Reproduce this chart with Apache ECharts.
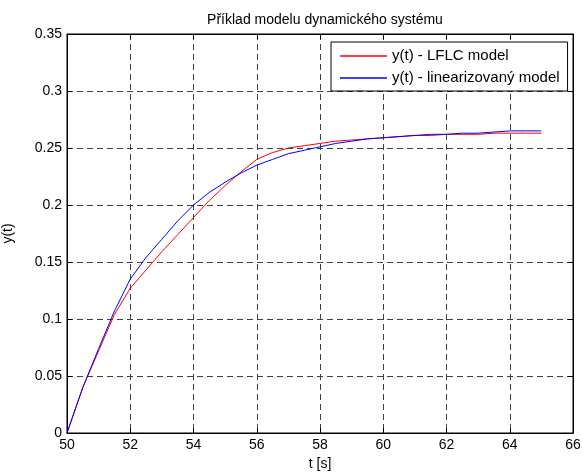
<!DOCTYPE html>
<html>
<head>
<meta charset="utf-8">
<script src="https://cdn.jsdelivr.net/npm/echarts@6/dist/echarts.min.js"></script>
<style>html,body{margin:0;padding:0;background:#fff}#c{width:583px;height:472px}</style>
</head>
<body>
<div id="c"></div>
<script>
var titleText = 'Příklad modelu dynamického systému';
var xName = 't [s]';
var yName = 'y(t)';
var seriesNames = ['y(t) - LFLC model', 'y(t) - linearizovaný model'];
var seriesColors = ['#ff0000', '#0000ff'];
var tValues = [50, 50.5, 51, 51.5, 52, 52.5, 53, 53.5, 54, 54.5, 55, 55.5, 56, 56.5, 57, 57.5, 58, 58.5, 59, 59.5, 60, 60.5, 61, 61.5, 62, 62.5, 63, 63.5, 64, 64.5, 65];
var lflcValues = [0, 0.040, 0.072, 0.104, 0.127, 0.143, 0.159, 0.174, 0.189, 0.204, 0.217, 0.229, 0.240, 0.246, 0.250, 0.252, 0.254, 0.256, 0.257, 0.258, 0.259, 0.260, 0.261, 0.261, 0.262, 0.262, 0.262, 0.263, 0.263, 0.263, 0.263];
var linValues = [0, 0.040, 0.074, 0.107, 0.135, 0.154, 0.170, 0.186, 0.200, 0.211, 0.220, 0.228, 0.235, 0.240, 0.245, 0.248, 0.251, 0.254, 0.256, 0.258, 0.259, 0.260, 0.261, 0.262, 0.262, 0.263, 0.263, 0.264, 0.265, 0.265, 0.265];

function pairs(vals){ return tValues.map(function(t,i){ return [t, vals[i]]; }); }

var font = 'Arial, "Liberation Sans", sans-serif';
var gridLine = {show:true, lineStyle:{color:'#404040', type:[6,4], width:1}};
var chart = echarts.init(document.getElementById('c'), null, {renderer:'canvas'});
chart.setOption({
  animation:false,
  backgroundColor:'#fff',
  color:seriesColors,
  title:{text:titleText, left:320, top:8, textAlign:'center',
    textStyle:{fontFamily:font, fontSize:14, fontWeight:'normal', color:'#000'}},
  grid:{left:67, right:10, top:34, bottom:39, show:true, borderColor:'#000', borderWidth:1,
    containLabel:false, outerBoundsMode:'none'},
  legend:{orient:'vertical', left:331, top:42, padding:[6,8,5,9], itemGap:6,
    icon:'rect', itemWidth:47, itemHeight:2, backgroundColor:'#fff', borderColor:'#000', borderWidth:1, borderRadius:0,
    textStyle:{fontFamily:font, fontSize:15, color:'#000', lineHeight:16},
    data:[{name:seriesNames[0], itemStyle:{color:seriesColors[0], opacity:0.75}},
          {name:seriesNames[1], itemStyle:{color:seriesColors[1], opacity:0.75}}]},
  xAxis:[{type:'value', min:50, max:66, interval:2, name:xName, nameLocation:'middle', nameGap:24,
      nameTextStyle:{fontFamily:font, fontSize:14, color:'#000'},
      axisLine:{show:true, onZero:false, lineStyle:{color:'#000'}},
      axisTick:{show:true, inside:true, length:5, lineStyle:{color:'#000'}},
      axisLabel:{fontFamily:font, fontSize:14, color:'#000', margin:5},
      splitLine:gridLine},
    {type:'value', min:50, max:66, interval:2, position:'top',
      axisLine:{show:true, onZero:false, lineStyle:{color:'#000'}},
      axisTick:{show:true, inside:true, length:5, lineStyle:{color:'#000'}},
      axisLabel:{show:false}, splitLine:{show:false}}],
  yAxis:[{type:'value', min:0, max:0.35, interval:0.05, name:yName, nameLocation:'middle', nameGap:52,
      nameTextStyle:{fontFamily:font, fontSize:14, color:'#000'},
      axisLine:{show:true, onZero:false, lineStyle:{color:'#000'}},
      axisTick:{show:true, inside:true, length:5, lineStyle:{color:'#000'}},
      axisLabel:{fontFamily:font, fontSize:14, color:'#000', margin:5},
      splitLine:gridLine},
    {type:'value', min:0, max:0.35, interval:0.05, position:'right',
      axisLine:{show:true, onZero:false, lineStyle:{color:'#000'}},
      axisTick:{show:true, inside:true, length:5, lineStyle:{color:'#000'}},
      axisLabel:{show:false}, splitLine:{show:false}}],
  series:[
    {name:seriesNames[0], type:'line', data:pairs(lflcValues), symbol:'none', smooth:false,
      lineStyle:{color:seriesColors[0], width:1}, itemStyle:{color:seriesColors[0]}},
    {name:seriesNames[1], type:'line', data:pairs(linValues), symbol:'none', smooth:false,
      lineStyle:{color:seriesColors[1], width:1}, itemStyle:{color:seriesColors[1]}}
  ]
});
</script>
</body>
</html>
